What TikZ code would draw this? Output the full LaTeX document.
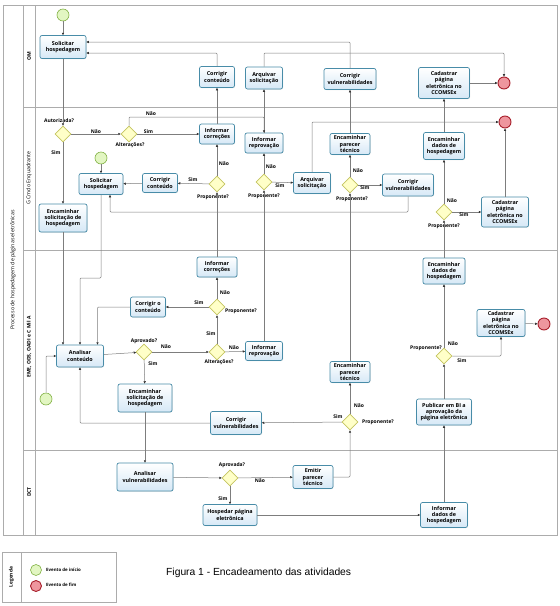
\documentclass[tikz,border=0pt]{standalone}
\usepackage{fontspec}
\setmainfont{Open Sans}
\newfontfamily\capfont{Liberation Sans}
\usetikzlibrary{arrows.meta, shapes.geometric, shadows}

\definecolor{taskline}{RGB}{72,140,168}
\definecolor{taskfill}{RGB}{214,232,246}
\definecolor{gwline}{RGB}{196,196,96}
\definecolor{gwfill}{RGB}{255,255,200}
\definecolor{startline}{RGB}{130,178,70}
\definecolor{startfill}{RGB}{226,246,194}
\definecolor{endline}{RGB}{168,32,44}
\definecolor{endfill}{RGB}{238,150,158}
\definecolor{flowline}{RGB}{125,125,125}
\definecolor{laneline}{RGB}{172,172,172}

\tikzset{
  task/.style={draw=taskline, top color=white, bottom color=taskfill, rounded corners=2pt,
    line width=0.7pt, align=center, inner sep=0.5pt, font=\fontsize{5.4}{6.4}\selectfont\bfseries,
    minimum width=36pt, minimum height=20pt,
    drop shadow={shadow xshift=0.5pt, shadow yshift=-0.5pt, opacity=0.25}},
  gateway/.style={diamond, draw=gwline, fill=gwfill, line width=0.6pt,
    minimum width=16pt, minimum height=16pt, inner sep=0pt},
  startev/.style={circle, draw=startline, fill=startfill, line width=0.6pt, minimum size=12pt, inner sep=0pt},
  endev/.style={circle, draw=endline, fill=endfill, line width=0.9pt, minimum size=12pt, inner sep=0pt},
  flow/.style={draw=flowline, line width=0.5pt, rounded corners=1pt,
    -{Triangle[length=2.4pt, width=2.2pt, color=black!80]}},
  lbl/.style={font=\fontsize{5}{6}\selectfont\bfseries, inner sep=0pt},
  lanetext/.style={font=\fontsize{5.3}{6}\selectfont, rotate=90, inner sep=0pt},
  lanebold/.style={lanetext, font=\fontsize{5}{6}\selectfont\bfseries},
  legtext/.style={font=\fontsize{4.4}{5}\selectfont\bfseries, inner sep=0pt, anchor=west},
  lane/.style={draw=laneline, line width=0.6pt},
}

\begin{document}
\begin{tikzpicture}[x=1pt, y=-1pt]
    \useasboundingbox (0,0) rectangle (560,606);

    % pool and lanes
    \draw[lane] (3,5) rectangle (557,535);
    \draw[lane] (23,5) -- (23,535);
    \draw[lane] (35,5) -- (35,535);
    \draw[lane] (23,107) -- (557,107);
    \draw[lane] (23,250) -- (557,250);
    \draw[lane] (23,450) -- (557,450);
    \node[lanetext] (pool) at (13,270) {Processo de hospedagem de páginas eletrônicas};
    \node[lanebold] (laneOM) at (29,56) {OM};
    \node[lanetext] (laneGC) at (29,178) {G Cmdo Enquadrante};
    \node[lanebold] (laneEME) at (29,347) {EME, ODS, OADI e C Mil A};
    \node[lanebold] (laneDCT) at (29,492) {DCT};

    % OM
    \node[startev] (start1) at (63,15) {};
    \node[task, minimum width=46pt, minimum height=23pt] (sol1) at (63,47) {Solicitar\\hospedagem};
    \node[task, minimum width=35pt, minimum height=21pt] (corr1) at (217,77) {Corrigir\\conteúdo};
    \node[task, minimum width=37pt, minimum height=22pt] (arq1) at (264,78) {Arquivar\\solicitação};
    \node[task, minimum width=52pt, minimum height=21pt] (corrv1) at (350,79) {Corrigir\\vulnerabilidades};
    \node[task, minimum width=51pt, minimum height=31pt] (cad1) at (444,83) {Cadastrar\\página\\eletrônica no\\CCOMSEx};
    \node[endev] (end1) at (504,83) {};

    % G Cmdo Enquadrante
    \node[gateway] (gAut) at (63,134) {};
    \node[gateway] (gAlt) at (129,134) {};
    \node[task, minimum width=35pt] (infc1) at (217,134) {Informar\\correções};
    \node[task, minimum width=38pt] (infr1) at (264,143) {Informar\\reprovação};
    \node[gateway] (gP1) at (217,184) {};
    \node[task, minimum width=35pt, minimum height=19pt] (corr2) at (160,183) {Corrigir\\conteúdo};
    \node[startev] (start2) at (101,158) {};
    \node[task, minimum width=44pt, minimum height=21pt] (sol2) at (101,184) {Solicitar\\hospedagem};
    \node[task, minimum width=48pt, minimum height=28pt] (enc1) at (63,218) {Encaminhar\\solicitação de\\hospedagem};
    \node[gateway] (gP2) at (264,182) {};
    \node[task, minimum width=37pt, minimum height=21pt] (arq2) at (312,183) {Arquivar\\solicitação};
    \node[endev] (end2) at (505,122) {};
    \node[gateway] (gP3) at (350,185) {};
    \node[task, minimum width=40pt, minimum height=21pt] (encp1) at (350,144) {Encaminhar\\parecer\\técnico};
    \node[task, minimum width=51pt, minimum height=22pt] (corrv3) at (408,185) {Corrigir\\vulnerabilidades};
    \node[task, minimum width=41pt, minimum height=27pt] (encd1) at (444,146) {Encaminhar\\dados de\\hospedagem};
    \node[gateway] (gP4) at (444,212) {};
    \node[task, minimum width=47pt, minimum height=30pt] (cad2) at (505,212) {Cadastrar\\página\\eletrônica no\\CCOMSEx};

    % EME, ODS, OADI e C Mil A
    \node[task, minimum width=40pt] (infc2) at (217,267) {Informar\\correções};
    \node[gateway] (gP5) at (217,307) {};
    \node[task, minimum width=35pt] (corr3) at (148,307) {Corrigir o\\conteúdo};
    \node[gateway] (gAlt2) at (217,352) {};
    \node[task, minimum width=37pt, minimum height=19pt] (infr2) at (264,351) {Informar\\reprovação};
    \node[gateway] (gApr) at (144,352) {};
    \node[task, minimum width=47pt, minimum height=22pt] (ana) at (80,356) {Analisar\\conteúdo};
    \node[startev] (start3) at (46,399) {};
    \node[task, minimum width=54pt, minimum height=28pt] (enc2) at (145,398) {Encaminhar\\solicitação de\\hospedagem};
    \node[task, minimum width=51pt, minimum height=23pt] (corrv2) at (236,423) {Corrigir\\vulnerabilidades};
    \node[gateway] (gP6) at (350,422) {};
    \node[task, minimum width=40pt, minimum height=21pt] (encp2) at (350,372) {Encaminhar\\parecer\\técnico};
    \node[task, minimum width=42pt, minimum height=26pt] (encd2) at (444,271) {Encaminhar\\dados de\\hospedagem};
    \node[task, minimum width=48pt, minimum height=27pt] (cad3) at (501,323) {Cadastrar\\página\\eletrônica no\\CCOMSEx};
    \node[endev] (end3) at (544,324) {};
    \node[gateway] (gP7) at (444,356) {};
    \node[task, minimum width=55pt, minimum height=26pt] (pub) at (444,412) {Publicar em BI a\\aprovação da\\página eletrônica};

    % DCT
    \node[task, minimum width=56pt, minimum height=28pt] (anv) at (145,477) {Analisar\\vulnerabilidades};
    \node[gateway] (gAprv) at (230,478) {};
    \node[task, minimum width=40pt, minimum height=23pt] (emi) at (313,477) {Emitir\\parecer\\técnico};
    \node[task, minimum width=54pt, minimum height=21pt] (hos) at (230,515) {Hospedar página\\eletrônica};
    \node[task, minimum width=47pt, minimum height=25pt] (infd) at (444,515) {Informar\\dados de\\hospedagem};

    % gateway labels
    \node[lbl] (tAut) at (59,121) {Autorizada?};
    \node[lbl] (tAlt) at (130,145) {Alterações?};
    \node[lbl] (tP1) at (213,197) {Proponente?};
    \node[lbl] (tP2) at (264,196) {Proponente?};
    \node[lbl] (tP3) at (352,199) {Proponente?};
    \node[lbl] (tP4) at (444,226) {Proponente?};
    \node[lbl] (tP5) at (241,311) {Proponente?};
    \node[lbl] (tApr) at (144,341) {Aprovado?};
    \node[lbl] (tAlt2) at (219,362) {Alterações?};
    \node[lbl] (tP6) at (378,422) {Proponente?};
    \node[lbl] (tP7) at (426,348) {Proponente?};
    \node[lbl] (tAprv) at (232,465) {Aprovada?};

    % OM flows
    \draw[flow] (start1) -- (sol1);
    \draw[flow] (sol1) -- (gAut);
    \draw[flow] (infc1) -- (corr1);
    \draw[flow] (infr1) -- (arq1);
    \draw[flow] (corr1.north) |- ([yshift=-6pt]sol1.east);
    \draw[flow] (corrv1.north) |- ([yshift=5pt]sol1.east);
    \draw[flow] (arq1.north) -- (arq1.north |- 0,53) -| (end1.north);
    \draw[flow] (cad1) -- (end1);
    \draw[flow] (encd1) -- (cad1);
    \draw[flow] (encp1) -- (corrv1);

    % G Cmdo flows
    \draw[flow] (gAut) -- node[lbl, above, yshift=0.5pt] (nAut) {Não} (gAlt);
    \draw[flow] (gAut) -- (enc1);
    \node[lbl] (sAut) at (56,153) {Sim};
    \draw[flow] (gAlt) -- node[lbl, above, pos=0.18, yshift=0.5pt] (sAlt) {Sim} (infc1);
    \draw[flow] (gAlt.north) -- (gAlt.north |- 0,117) -| (infr1.north);
    \node[lbl] (nAlt) at (151,114) {Não};
    \draw[flow] (gP1) -- (infc1);
    \node[lbl] (nP1) at (224,164) {Não};
    \draw[flow] (gP1) -- (corr2);
    \node[lbl] (sP1) at (193,180) {Sim};
    \draw[flow] (corr2) -- (sol2);
    \draw[flow] (start2) -- (sol2);
    \draw[flow] (gP2) -- (infr1);
    \node[lbl] (nP2) at (271,167) {Não};
    \draw[flow] (gP2) -- (arq2);
    \node[lbl] (sP2) at (280,186) {Sim};
    \draw[flow] (arq2.north) |- (end2.west);
    \draw[flow] (gP3) -- (encp1);
    \node[lbl] (nP3) at (358,171) {Não};
    \draw[flow] (gP3) -- (corrv3);
    \node[lbl] (sP3) at (365,188) {Sim};
    \draw[flow] (corrv3.south) -- (corrv3.south |- 0,212) -| ([xshift=9pt]sol2.south);
    \draw[flow] (gP4) -- (encd1);
    \node[lbl] (nP4) at (452,201) {Não};
    \draw[flow] (gP4) -- (cad2);
    \node[lbl] (sP4) at (464,215) {Sim};
    \draw[flow] (cad2) -- (end2);

    % EME flows
    \draw[flow] (sol2.south) -- (sol2.south |- 0,278) -| (ana.north);
    \draw[flow] (enc1.south) -- (enc1.south |- ana.north);
    \draw[flow] (corr3.west) -| ([xshift=17.5pt]ana.north);
    \draw[flow] (start3.north) |- (ana.west);
    \draw[flow] (corrv2.west) -| (ana.south);
    \draw[flow] (ana) -- (gApr);
    \draw[flow] (gApr) -- (gAlt2);
    \node[lbl] (nApr) at (166,347) {Não};
    \draw[flow] (gApr) -- (enc2);
    \node[lbl] (sApr) at (153,364) {Sim};
    \draw[flow] (gAlt2) -- (gP5);
    \node[lbl] (sAlt2) at (211,334) {Sim};
    \draw[flow] (gAlt2) -- (infr2);
    \node[lbl] (nAlt2) at (234,348) {Não};
    \draw[flow] (gP5) -- (infc2);
    \node[lbl] (nP5) at (225,293) {Não};
    \draw[flow] (gP5) -- (corr3);
    \node[lbl] (sP5) at (199,303) {Sim};
    \draw[flow] (infc2) -- (gP1);
    \draw[flow] (infr2) -- (gP2);
    \draw[flow] (encp2) -- (gP3);
    \draw[flow] (gP6) -- (encp2);
    \node[lbl] (nP6) at (359,406) {Não};
    \draw[flow] (gP6) -- (corrv2);
    \node[lbl] (sP6) at (338,417) {Sim};
    \draw[flow] (encd2) -- (gP4);
    \draw[flow] (gP7) -- (encd2);
    \node[lbl] (nP7) at (453,344) {Não};
    \draw[flow] (gP7.east) -| (cad3.south);
    \node[lbl] (sP7) at (462,361) {Sim};
    \draw[flow] (cad3) -- (end3);
    \draw[flow] (pub) -- (gP7);

    % DCT flows
    \draw[flow] (enc2) -- (anv);
    \draw[flow] (anv) -- (gAprv);
    \draw[flow] (gAprv) -- (emi);
    \node[lbl] (nAprv) at (260,481) {Não};
    \draw[flow] (gAprv) -- (hos);
    \node[lbl] (sAprv) at (223,499) {Sim};
    \draw[flow] (emi.east) -| (gP6.south);
    \draw[flow] (hos) -- (infd);
    \draw[flow] (infd) -- (pub);

    % legend and caption
    \draw[lane] (2,552) rectangle (116,602);
    \draw[lane] (21,552) -- (21,602);
    \node[lanetext, font=\fontsize{4.8}{5}\selectfont\bfseries] (legTitle) at (11.5,577) {Legenda};
    \node[startev, minimum size=11pt] (legStart) at (36,570) {};
    \node[endev, minimum size=11pt] (legEnd) at (36,586) {};
    \node[legtext] (legStartTxt) at (46,570) {Evento de início};
    \node[legtext] (legEndTxt) at (46,585) {Evento de fim};
    \node[anchor=west, inner sep=0pt, font=\capfont\fontsize{10.3}{12}\selectfont] (caption) at (166,573) {Figura 1 - Encadeamento das atividades};
\end{tikzpicture}
\end{document}
